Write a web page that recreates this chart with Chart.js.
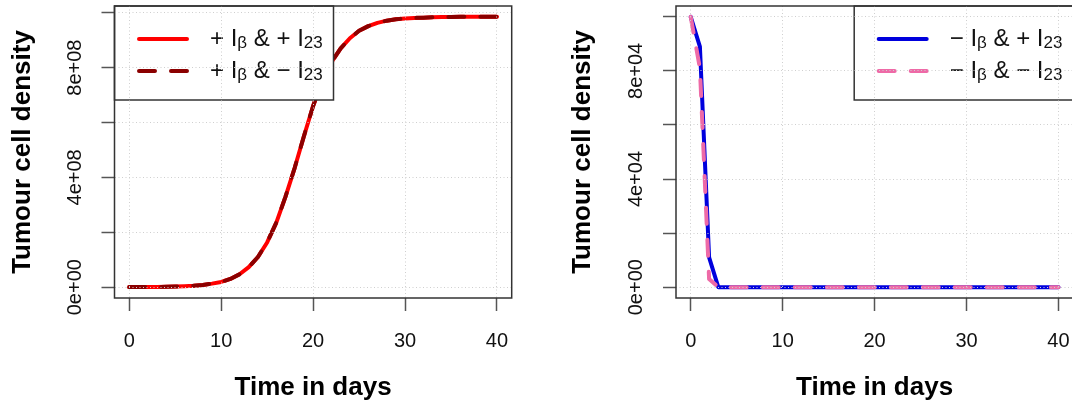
<!DOCTYPE html>
<html>
<head>
<meta charset="utf-8">
<script src="https://cdn.jsdelivr.net/npm/chart.js@4.4.1/dist/chart.umd.min.js"></script>
<style>
  body { margin: 0; background: #fff; overflow: hidden; }
  canvas { position: absolute; top: 0; }
  #graficaMas { left: 0; }
  #graficaMenos { left: 560px; }
</style>
</head>
<body>
<canvas id="graficaMas" width="560" height="406"></canvas>
<canvas id="graficaMenos" width="520" height="406"></canvas>
<script>
const dias = [0, 1, 2, 3, 4, 5, 6, 7, 8, 9, 10, 11, 12, 13, 14, 15, 16, 17, 18, 19, 20,
              21, 22, 23, 24, 25, 26, 27, 28, 29, 30, 31, 32, 33, 34, 35, 36, 37, 38, 39, 40];

// Densidad tumoral con +I_beta
const masMas = [2.3e5, 3.6e5, 5.6e5, 8.8e5, 1.4e6, 2.2e6, 3.4e6, 5.3e6, 8.3e6, 1.3e7,
                1.9e7, 3.0e7, 4.7e7, 7.3e7, 1.10e8, 1.63e8, 2.35e8, 3.30e8, 4.35e8, 5.50e8,
                6.60e8, 7.50e8, 8.20e8, 8.70e8, 9.07e8, 9.34e8, 9.51e8, 9.63e8, 9.71e8, 9.76e8,
                9.79e8, 9.81e8, 9.82e8, 9.83e8, 9.84e8, 9.84e8, 9.85e8, 9.85e8, 9.85e8, 9.85e8, 9.85e8];
const masMenos = [2.3e5, 3.6e5, 5.6e5, 8.8e5, 1.4e6, 2.2e6, 3.4e6, 5.3e6, 8.3e6, 1.3e7,
                  1.9e7, 3.0e7, 4.7e7, 7.3e7, 1.10e8, 1.63e8, 2.35e8, 3.30e8, 4.35e8, 5.50e8,
                  6.60e8, 7.50e8, 8.20e8, 8.70e8, 9.07e8, 9.34e8, 9.51e8, 9.63e8, 9.71e8, 9.76e8,
                  9.79e8, 9.81e8, 9.82e8, 9.83e8, 9.84e8, 9.84e8, 9.85e8, 9.85e8, 9.85e8, 9.85e8, 9.85e8];

// Densidad tumoral con -I_beta
const menosMas = [1.0e5, 8.9e4, 1.1e4, 0, 0, 0, 0, 0, 0, 0,
                  0, 0, 0, 0, 0, 0, 0, 0, 0, 0,
                  0, 0, 0, 0, 0, 0, 0, 0, 0, 0,
                  0, 0, 0, 0, 0, 0, 0, 0, 0, 0, 0];
const menosMenos = [1.0e5, 8.1e4, 3.0e3, 0, 0, 0, 0, 0, 0, 0,
                    0, 0, 0, 0, 0, 0, 0, 0, 0, 0,
                    0, 0, 0, 0, 0, 0, 0, 0, 0, 0,
                    0, 0, 0, 0, 0, 0, 0, 0, 0, 0, 0];

const ticksDias = [0, 10, 20, 30, 40];
const ticksMas = [0, 2e8, 4e8, 6e8, 8e8, 1e9];
const etiquetasMas = ['0e+00', '', '4e+08', '', '8e+08', ''];
const ticksMenos = [0, 2e4, 4e4, 6e4, 8e4, 1e5];
const etiquetasMenos = ['0e+00', '', '4e+04', '', '8e+04', ''];

const fuente = '"Liberation Sans", Arial, sans-serif';
Chart.defaults.font.family = fuente;
Chart.defaults.color = '#111';
Chart.defaults.animation = false;

const puntos = (vals) => dias.map((d, i) => ({ x: d, y: vals[i] }));

// Caja alrededor del área de la gráfica
const marco = {
    id: 'marco',
    afterDraw(chart) {
        const { ctx, chartArea: a } = chart;
        ctx.save();
        ctx.strokeStyle = '#333';
        ctx.lineWidth = 1.5;
        ctx.strokeRect(a.left, a.top, a.right - a.left, a.bottom - a.top);
        ctx.restore();
    }
};

// Leyenda con subíndices (el texto tras "_" va como subíndice)
const leyenda = {
    id: 'leyenda',
    afterDatasetsDraw(chart, args, opts) {
        const { ctx, chartArea: a } = chart;
        const w = 219, h = 94;
        const x0 = opts.lado === 'derecha' ? a.right - w : a.left;
        const y0 = a.top;
        ctx.save();
        ctx.fillStyle = '#fff';
        ctx.fillRect(x0, y0, w, h);
        ctx.strokeStyle = '#333';
        ctx.lineWidth = 1.5;
        ctx.strokeRect(x0, y0, w, h);
        chart.data.datasets.forEach((ds, i) => {
            const y = y0 + 33 + i * 32;
            ctx.strokeStyle = ds.borderColor;
            ctx.lineWidth = ds.borderWidth;
            ctx.lineCap = 'round';
            ctx.setLineDash(ds.borderDash || []);
            ctx.beginPath();
            ctx.moveTo(x0 + 24.5, y);
            ctx.lineTo(x0 + 72.5, y);
            ctx.stroke();
            ctx.setLineDash([]);
            ctx.fillStyle = '#111';
            ctx.textBaseline = 'alphabetic';
            let x = x0 + 95.5;
            ds.label.split(/_(\S+)/).forEach((txt, j) => {
                const sub = j % 2 === 1;
                ctx.font = (sub ? '17px ' : '24px ') + fuente;
                ctx.fillText(txt, x, y + 7 + (sub ? 2 : 0));
                x += ctx.measureText(txt).width;
            });
        });
        ctx.restore();
    }
};

const rejilla = { z: 1, color: '#cfcfcf', lineWidth: 1, tickLength: 13, tickColor: '#555', tickWidth: 1.5 };
// el trazo punteado de la rejilla se define en border.dash; la caja la dibuja "marco"
const borde = { display: false, dash: [1, 2.5] };

const escalas = (ticksY, etiquetasY, minY, maxY, anchoY) => ({
    x: {
        type: 'linear',
        min: -1.6,
        max: 41.6,
        afterBuildTicks: s => { s.ticks = ticksDias.map(v => ({ value: v })); },
        afterFit: s => { s.height = 108; s.paddingLeft = 0; s.paddingRight = 0; },
        ticks: { autoSkip: false, maxRotation: 0, padding: 18, font: { size: 20 }, color: '#111' },
        grid: rejilla,
        border: borde,
        title: { display: true, text: 'Time in days', color: '#000', font: { size: 26, weight: 'bold' }, padding: { top: 0, bottom: 2.4 } }
    },
    y: {
        type: 'linear',
        min: minY,
        max: maxY,
        afterBuildTicks: s => { s.ticks = ticksY.map(v => ({ value: v })); },
        afterFit: s => { s.width = anchoY; s.paddingTop = 0; s.paddingBottom = 0; },
        ticks: {
            autoSkip: false, minRotation: 90, maxRotation: 90, crossAlign: 'center', padding: -2,
            font: { size: 20 }, color: '#111',
            callback: (v, i) => etiquetasY[i]
        },
        grid: rejilla,
        border: borde,
        title: { display: true, text: 'Tumour cell density', color: '#000', font: { size: 26, weight: 'bold' }, padding: { top: 7, bottom: 0 } }
    }
});

const lineaBase = { pointRadius: 0, tension: 0, fill: false, borderWidth: 4, borderCapStyle: 'round', borderJoinStyle: 'round' };

// Gráfica +I_beta
const graficaMas = new Chart(document.getElementById('graficaMas').getContext('2d'), {
    type: 'line',
    data: {
        datasets: [
            { ...lineaBase, label: '+ I_β & + I_23', data: puntos(masMas), borderColor: '#FF0000', order: 1 },
            { ...lineaBase, label: '+ I_β & − I_23', data: puntos(masMenos), borderColor: '#8B0000', borderDash: [16, 16], order: 0 }
        ]
    },
    options: {
        responsive: false,
        layout: { padding: { top: 6, right: 48.3, bottom: 0, left: 0 } },
        scales: escalas(ticksMas, etiquetasMas, -0.394e8, 10.244e8, 114.5),
        plugins: { legend: { display: false }, tooltip: { enabled: false }, leyenda: { lado: 'izquierda' } }
    },
    plugins: [leyenda, marco]
});

// Gráfica -I_beta
const graficaMenos = new Chart(document.getElementById('graficaMenos').getContext('2d'), {
    type: 'line',
    data: {
        datasets: [
            { ...lineaBase, label: '− I_β & + I_23', data: puntos(menosMas), borderColor: '#0000DD', order: 1 },
            { ...lineaBase, label: '− I_β & − I_23', data: puntos(menosMenos), borderColor: '#EE6AA7', borderDash: [16, 16], order: 0 }
        ]
    },
    options: {
        responsive: false,
        layout: { padding: { top: 6, right: 6.8, bottom: 0, left: 0 } },
        scales: escalas(ticksMenos, etiquetasMenos, -4000, 104000, 116),
        plugins: { legend: { display: false }, tooltip: { enabled: false }, leyenda: { lado: 'derecha' } }
    },
    plugins: [leyenda, marco]
});
</script>
</body>
</html>
